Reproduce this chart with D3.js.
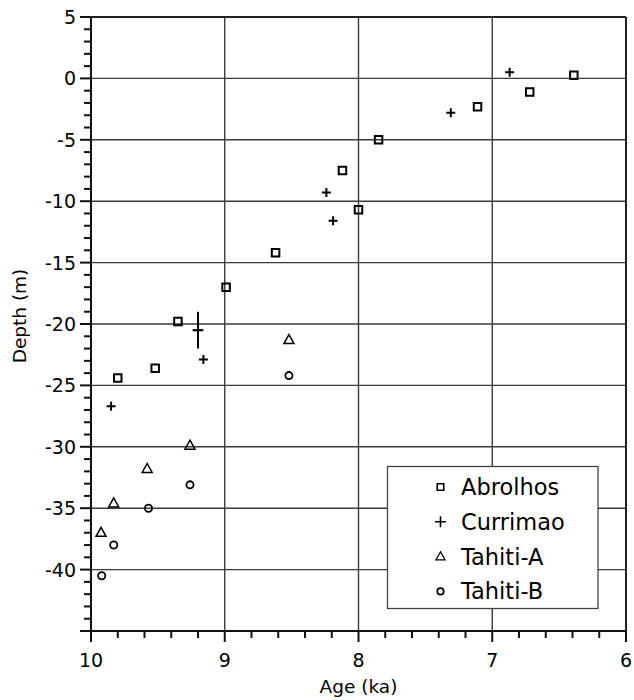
<!DOCTYPE html>
<html>
<head>
<meta charset="utf-8">
<script src="https://cdn.jsdelivr.net/npm/d3@7"></script>
<style>
  html, body { margin: 0; padding: 0; background: #fff; }
  svg { display: block; }
  text { font-family: "DejaVu Sans", sans-serif; fill: #000; }
</style>
</head>
<body>
<svg id="chart" width="634" height="700"></svg>
<script>
// ---- data (Age in ka, Depth in m) ----
const seriesNames = ["Abrolhos", "Currimao", "Tahiti-A", "Tahiti-B"];

const abrolhosAge   = [9.80, 9.52, 9.35, 8.99, 8.62, 8.00, 8.12, 7.85, 7.11, 6.72, 6.39];
const abrolhosDepth = [-24.4, -23.6, -19.8, -17.0, -14.2, -10.7, -7.5, -5.0, -2.3, -1.1, 0.25];

const currimaoAge   = [9.85, 9.20, 9.16, 8.24, 8.19, 7.31, 6.87];
const currimaoDepth = [-26.7, -20.5, -22.9, -9.3, -11.6, -2.8, 0.5];
// error bars (only one sample has them)
const currimaoAgeErr   = [0, 0.04, 0, 0, 0, 0, 0];
const currimaoDepthLo  = [null, -22.0, null, null, null, null, null];
const currimaoDepthHi  = [null, -19.0, null, null, null, null, null];

const tahitiAAge   = [9.925, 9.83, 9.58, 9.26, 8.52];
const tahitiADepth = [-37.0, -34.6, -31.8, -29.9, -21.3];

const tahitiBAge   = [9.92, 9.83, 9.57, 9.26, 8.52];
const tahitiBDepth = [-40.5, -38.0, -35.0, -33.1, -24.2];

const xTickLabels = [10, 9, 8, 7, 6];
const yTickLabels = [5, 0, -5, -10, -15, -20, -25, -30, -35, -40];

const xTitle = "Age (ka)";
const yTitle = "Depth (m)";

// ---- layout ----
const svg = d3.select("#chart");
const L = 91, R = 626, T = 17, B = 631;
const x = d3.scaleLinear().domain([10, 6]).range([L, R]);
const y = d3.scaleLinear().domain([-45, 5]).range([B, T]);

const gridColor = "#3a3a3a";

// gridlines
svg.append("g").selectAll("line").data(yTickLabels.filter(v => v < 5))
  .join("line")
  .attr("x1", L).attr("x2", R)
  .attr("y1", d => y(d)).attr("y2", d => y(d))
  .attr("stroke", gridColor).attr("stroke-width", 1.4);
svg.append("g").selectAll("line").data(xTickLabels.filter(v => v < 10 && v > 6))
  .join("line")
  .attr("x1", d => x(d)).attr("x2", d => x(d))
  .attr("y1", T).attr("y2", B)
  .attr("stroke", gridColor).attr("stroke-width", 1.4);

// frame top & right
svg.append("line").attr("x1", L).attr("x2", R).attr("y1", y(5)).attr("y2", y(5))
  .attr("stroke", "#222").attr("stroke-width", 2);
svg.append("line").attr("x1", x(6)).attr("x2", x(6)).attr("y1", T).attr("y2", B)
  .attr("stroke", "#222").attr("stroke-width", 2);

// x axis
const xMinor = d3.range(0, 21).map(i => 10 - i * 0.2);
const gx = svg.append("g").attr("transform", `translate(0,${B})`);
gx.append("line").attr("x1", L).attr("x2", R).attr("stroke", "#111").attr("stroke-width", 2);
gx.selectAll("line.tk").data(xMinor).join("line").attr("class", "tk")
  .attr("x1", d => x(d)).attr("x2", d => x(d))
  .attr("y1", 0).attr("y2", d => Math.abs(d - Math.round(d)) < 1e-6 ? 11 : 7)
  .attr("stroke", "#111").attr("stroke-width", 2);
gx.selectAll("text").data(xTickLabels).join("text")
  .attr("x", d => x(d)).attr("y", 36)
  .attr("text-anchor", "middle").attr("font-size", 19)
  .text(d => d);

// y axis
const yMinor = d3.range(-45, 6, 1);
const gy = svg.append("g").attr("transform", `translate(${L},0)`);
gy.append("line").attr("y1", T).attr("y2", B).attr("stroke", "#111").attr("stroke-width", 2);
gy.selectAll("line.tk").data(yMinor).join("line").attr("class", "tk")
  .attr("y1", d => y(d)).attr("y2", d => y(d))
  .attr("x1", 0).attr("x2", d => d % 5 === 0 ? -11 : -7)
  .attr("stroke", "#111").attr("stroke-width", 2);
gy.selectAll("text").data(yTickLabels).join("text")
  .attr("x", -15).attr("y", d => y(d) + 7)
  .attr("text-anchor", "end").attr("font-size", 19)
  .text(d => d);

// axis titles
svg.append("text").attr("x", (L + R) / 2).attr("y", 693)
  .attr("text-anchor", "middle").attr("font-size", 18.5).text(xTitle);
svg.append("text").attr("transform", `translate(26,${(T + B) / 2 - 8}) rotate(-90)`)
  .attr("text-anchor", "middle").attr("font-size", 18.5).text(yTitle);

// ---- markers ----
const symSquare = s => `M${-s/2},${-s/2}h${s}v${s}h${-s}Z`;
const symPlus = s => `M${-s/2},0h${s}M0,${-s/2}v${s}`;
const symTri = (w, h) => `M0,${-h*0.6}L${w/2},${h*0.4}L${-w/2},${h*0.4}Z`;
const symCircle = r => `M${-r},0a${r},${r} 0 1,0 ${2*r},0a${r},${r} 0 1,0 ${-2*r},0`;

const pts = svg.append("g").attr("fill", "none").attr("stroke", "#000");

pts.selectAll("path.ab").data(abrolhosAge.map((a, i) => [a, abrolhosDepth[i]]))
  .join("path").attr("class", "ab")
  .attr("transform", d => `translate(${x(d[0])},${y(d[1])})`)
  .attr("d", symSquare(7.5)).attr("stroke-width", 2);

pts.selectAll("path.cu").data(currimaoAge.map((a, i) => [a, currimaoDepth[i]]))
  .join("path").attr("class", "cu")
  .attr("transform", d => `translate(${x(d[0])},${y(d[1])})`)
  .attr("d", symPlus(9)).attr("stroke-width", 2);

// currimao error bars
const errData = currimaoAge.map((a, i) => ({a, d: currimaoDepth[i], ex: currimaoAgeErr[i], lo: currimaoDepthLo[i], hi: currimaoDepthHi[i]}))
  .filter(e => e.lo !== null);
pts.selectAll("line.ey").data(errData).join("line").attr("class", "ey")
  .attr("x1", e => x(e.a)).attr("x2", e => x(e.a))
  .attr("y1", e => y(e.lo)).attr("y2", e => y(e.hi)).attr("stroke-width", 2);
pts.selectAll("line.ex").data(errData).join("line").attr("class", "ex")
  .attr("x1", e => x(e.a + e.ex)).attr("x2", e => x(e.a - e.ex))
  .attr("y1", e => y(e.d)).attr("y2", e => y(e.d)).attr("stroke-width", 2);

pts.selectAll("path.ta").data(tahitiAAge.map((a, i) => [a, tahitiADepth[i]]))
  .join("path").attr("class", "ta")
  .attr("transform", d => `translate(${x(d[0])},${y(d[1])})`)
  .attr("d", symTri(10, 9)).attr("stroke-width", 1.5);

pts.selectAll("path.tb").data(tahitiBAge.map((a, i) => [a, tahitiBDepth[i]]))
  .join("path").attr("class", "tb")
  .attr("transform", d => `translate(${x(d[0])},${y(d[1])})`)
  .attr("d", symCircle(3.6)).attr("stroke-width", 1.8);

// ---- legend ----
const lg = svg.append("g");
lg.append("rect").attr("x", 387.5).attr("y", 466.5).attr("width", 210.5).attr("height", 142)
  .attr("fill", "#fff").attr("stroke", "#444").attr("stroke-width", 1.3);
const legSyms = [symSquare(6.5), symPlus(11), symTri(9, 8), symCircle(3.2)];
const legW = [1.6, 1.6, 1.3, 1.7];
seriesNames.forEach((name, i) => {
  const cy = 487 + i * 34.8;
  lg.append("path").attr("transform", `translate(440.5,${cy})`)
    .attr("d", legSyms[i]).attr("fill", "none").attr("stroke", "#000").attr("stroke-width", legW[i]);
  lg.append("text").attr("x", 461).attr("y", cy + 8).attr("font-size", 22.5).text(name);
});
</script>
</body>
</html>
